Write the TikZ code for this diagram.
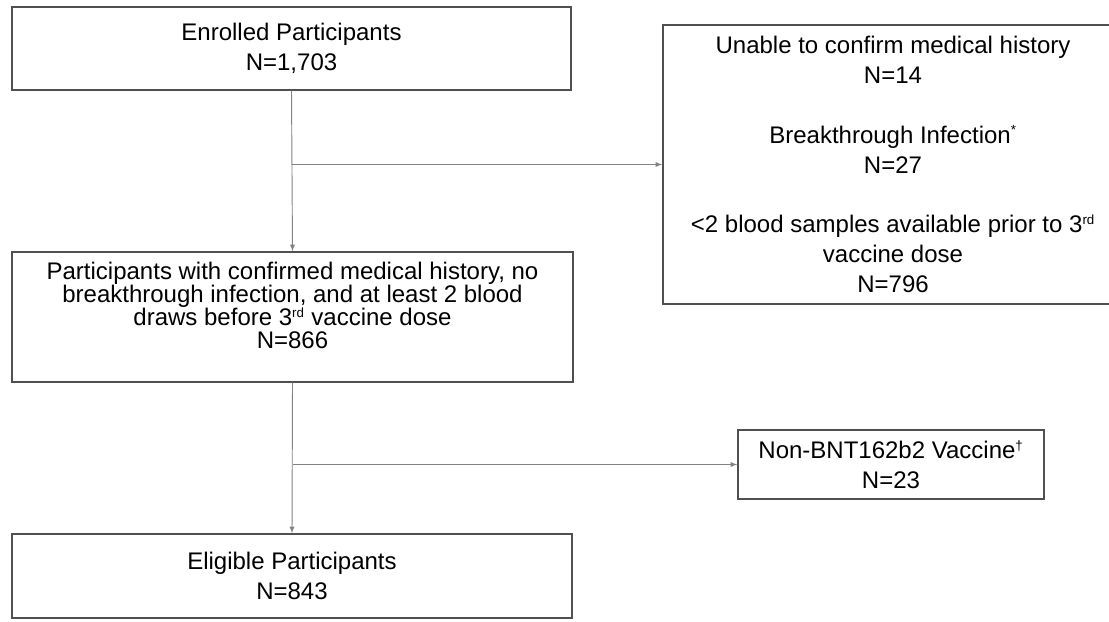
\documentclass[tikz,border=0pt]{standalone}
\usepackage{fontspec}
\setmainfont{Liberation Sans}
\usepackage{tikz}
\usetikzlibrary{arrows,shapes}
\definecolor{boxline}{RGB}{80,80,80}
\definecolor{flowline}{RGB}{130,130,130}
\newcommand{\supmark}[1]{\textsuperscript{\fontsize{10}{10}\selectfont #1}}
\tikzstyle{stage}=[rectangle, draw=boxline
%,fill=white
,line width=1.1pt
,align=center
,inner sep=0pt
,font=\fontsize{18}{22.5}\selectfont
]
\tikzstyle{flow} = [draw=flowline,line width=0.7pt,-latex]

\begin{document}
\begin{tikzpicture}[x=0.75pt,y=-0.75pt]
    \useasboundingbox (0,0) rectangle (1109,621);
    % Main column of the flow chart
    \node[stage, minimum width=419pt, minimum height=62pt] (enrolled) at (291.5,48.5)
        {Enrolled Participants\\N=1,703};
    \node[stage, minimum width=421pt, minimum height=97.5pt,
          font=\fontsize{18}{17.3}\selectfont] (confirmed) at (292.5,317)
        {Participants with confirmed medical history, no\\
         breakthrough infection, and at least 2 blood\\
         draws before 3\supmark{rd} vaccine dose\\N=866\\\mbox{}};
    \node[stage, minimum width=420pt, minimum height=63pt] (eligible) at (292,576)
        {Eligible Participants\\N=843};

    % Excluded participants on the right
    \node[stage, minimum width=345pt, minimum height=209pt] (excluded) at (893,164.5)
        {Unable to confirm medical history\\N=14\\[22pt]
         Breakthrough Infection\supmark{*}\\N=27\\[22pt]
         {\textless}2 blood samples available prior to 3\supmark{rd}\\
         vaccine dose\\N=796};
    \node[stage, minimum width=229.5pt, minimum height=52pt] (nonbnt) at (891,464.5)
        {Non-BNT162b2 Vaccine\supmark{\textdagger}\\N=23};

    % Connect the boxes
    \foreach \source/\dest in {enrolled/confirmed, confirmed/eligible}
        \path[flow] (\source.south) -- (\dest.north);
    \foreach \source/\dest in {enrolled/excluded, confirmed/nonbnt}
        \path[flow] (\source.south |- \dest.west) -- (\dest.west);
\end{tikzpicture}
\end{document}
